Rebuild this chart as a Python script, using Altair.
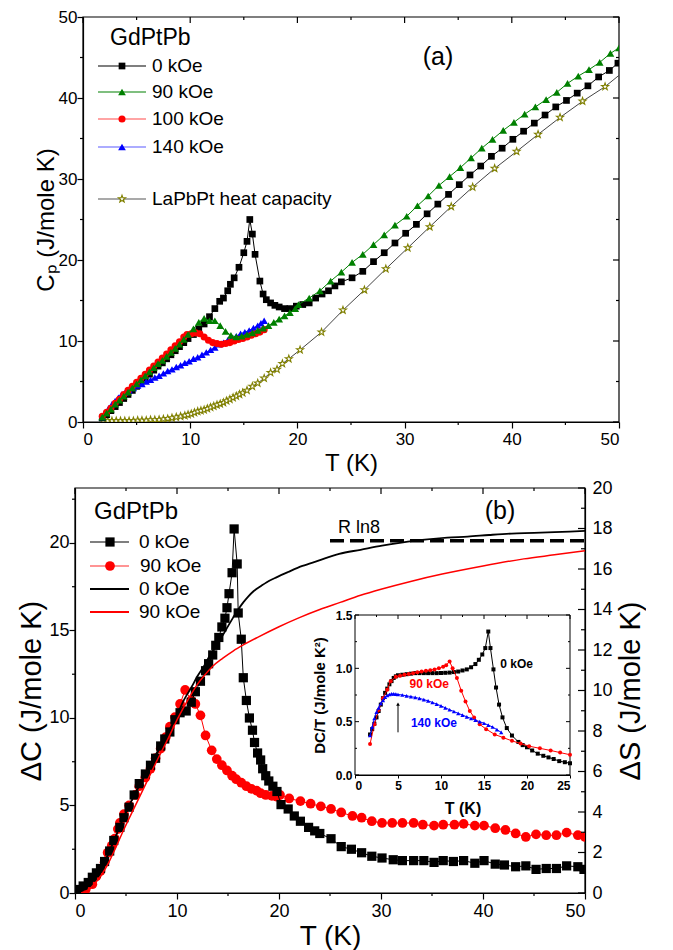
import altair as alt
import pandas as pd

FONT = "Liberation Sans"

# ---------------- layout constants ----------------
W_A, H_A = 544, 405
A_LEFT = 8
W_B, H_B = 510, 405
INSET_X = [280, 495]
INSET_Y = [287, 127]
STAR = ("M0,-1L0.235,-0.324L0.951,-0.309L0.38,0.124L0.588,0.809L0,0.4L-0.588,0.809"
        "L-0.38,0.124L-0.951,-0.309L-0.235,-0.324Z")

# ---------------- panel (a) data ----------------
A_XDOM = [0, 50]
A_YDOM = [0, 50]
A_XMAJ = [0, 10, 20, 30, 40, 50]
A_XMIN = [5, 15, 25, 35, 45]
A_YMAJ = [0, 10, 20, 30, 40, 50]
A_YMIN = [5, 15, 25, 35, 45]

a0_T = [1.8, 2.2, 2.6, 3.0, 3.4, 3.8, 4.2, 4.6, 5.0, 5.4, 5.8, 6.2, 6.6, 7.0, 7.4, 7.8, 8.2, 8.6, 9.0, 9.4, 9.8,
        10.3, 10.8, 11.3, 11.8, 12.3, 12.75, 13.1, 13.5, 13.75, 14.1, 14.55, 15.0, 15.3, 15.56, 15.8, 16.05, 16.5,
        16.8, 17.1, 17.5, 17.9, 18.3, 18.8, 19.3, 19.9, 20.5, 21.1, 21.7, 22.3, 22.9, 23.5, 24.1, 25.1, 26.1, 27.1,
        28.1, 29.1, 30.1, 31.1, 32.1, 33.1, 34.1, 35.1, 36.1, 37.1, 38.1, 39.1, 40.1, 41.1, 42.1, 43.1, 44.1, 45.1,
        46.1, 47.1, 48.1, 49.1, 49.9]
a0_C = [0.5, 0.9, 1.4, 1.9, 2.4, 2.9, 3.4, 3.9, 4.4, 4.9, 5.4, 5.9, 6.4, 6.9, 7.3, 7.8, 8.3, 8.8, 9.3, 9.8, 10.3,
        10.8, 11.5, 12.1, 13.0, 14.0, 14.9, 15.3, 16.2, 17.0, 17.8, 19.1, 20.9, 22.3, 25.0, 23.2, 20.7, 17.4, 15.8,
        15.1, 14.7, 14.4, 14.2, 14.0, 14.0, 14.3, 14.5, 14.7, 15.3, 15.8, 16.2, 16.8, 17.3, 17.8, 18.6, 19.8, 20.9,
        22.1, 23.3, 24.4, 25.7, 26.9, 28.1, 29.3, 30.5, 31.6, 32.8, 33.8, 34.9, 35.9, 36.9, 37.9, 38.9, 39.7, 40.6,
        41.5, 42.6, 43.4, 44.3]

a90_T = [1.8, 2.2, 2.6, 3.0, 3.4, 3.8, 4.2, 4.6, 5.0, 5.4, 5.8, 6.2, 6.6, 7.0, 7.4, 7.8, 8.2, 8.6, 9.0, 9.4, 9.8,
         10.3, 10.8, 11.3, 11.8, 12.3, 12.8, 13.3, 13.8, 14.3, 14.8, 15.3, 15.8, 16.3, 16.8, 17.3, 17.8, 18.3, 18.8,
         19.3, 19.8, 20.1, 21.1, 22.1, 23.1, 24.1, 25.1, 26.1, 27.1, 28.1, 29.1, 30.2, 31.2, 32.2, 33.2, 34.2, 35.2,
         36.2, 37.2, 38.2, 39.2, 40.2, 41.2, 42.2, 43.2, 44.2, 45.2, 46.2, 47.2, 48.2, 49.2, 50.0]
a90_C = [0.6, 1.1, 1.6, 2.2, 2.7, 3.2, 3.7, 4.2, 4.7, 5.2, 5.7, 6.2, 6.7, 7.2, 7.6, 8.1, 8.6, 9.1, 9.6, 10.2, 10.8,
         11.5, 12.3, 12.8, 12.5, 12.5, 11.9, 11.2, 10.7, 10.5, 10.6, 10.8, 11.0, 11.3, 11.6, 11.9, 12.3, 12.7, 13.1,
         13.5, 14.0, 14.5, 15.3, 16.2, 17.4, 18.5, 19.7, 20.7, 21.9, 23.1, 24.3, 25.4, 26.7, 27.9, 29.2, 30.3, 31.4,
         32.6, 33.8, 34.9, 36.0, 37.0, 38.0, 38.9, 39.8, 40.7, 41.8, 42.7, 43.5, 44.4, 45.5, 46.2]

a100_T = [1.8, 2.2, 2.6, 3.0, 3.4, 3.8, 4.2, 4.6, 5.0, 5.4, 5.8, 6.2, 6.6, 7.0, 7.4, 7.8, 8.2, 8.6, 9.0, 9.4,
          9.7, 10.1, 10.5, 10.9, 11.3, 11.7, 12.1, 12.5, 12.9, 13.3, 13.7, 14.1, 14.5, 14.9, 15.3, 15.7, 16.1, 16.5, 16.9]
a100_C = [0.7, 1.2, 1.7, 2.3, 2.8, 3.4, 3.9, 4.4, 4.9, 5.4, 5.9, 6.4, 6.9, 7.4, 7.9, 8.4, 8.9, 9.4, 9.9, 10.5,
          10.8, 10.9, 11.0, 10.9, 10.5, 10.1, 9.8, 9.7, 9.6, 9.7, 9.8, 10.0, 10.2, 10.3, 10.5, 10.7, 10.9, 11.1, 11.4]

a140_T = [1.8, 2.1, 2.4, 2.7, 3.0, 3.3, 3.6, 3.9, 4.3, 4.7, 5.1, 5.5, 5.9, 6.3, 6.7, 7.1, 7.5, 7.9, 8.3, 8.7, 9.1,
          9.5, 9.9, 10.3, 10.7, 11.1, 11.5, 11.9, 12.3, 12.7, 13.1, 13.5, 13.9, 14.3, 14.7, 15.1, 15.5, 15.9, 16.3,
          16.6, 16.9]
a140_C = [0.6, 1.2, 1.7, 2.2, 2.6, 3.0, 3.4, 3.6, 3.9, 4.2, 4.5, 4.7, 5.0, 5.2, 5.5, 5.7, 6.0, 6.3, 6.5, 6.8, 7.0,
          7.3, 7.5, 7.8, 8.0, 8.3, 8.6, 8.9, 9.2, 9.6, 9.8, 10.1, 10.4, 10.6, 10.9, 11.1, 11.3, 11.6, 11.9, 12.2, 12.5]

la_T = [1.9, 2.3, 2.7, 3.1, 3.5, 3.9, 4.3, 4.7, 5.1, 5.5, 5.9, 6.3, 6.7, 7.1, 7.5, 7.9, 8.3, 8.7, 9.1, 9.5,
        9.8, 10.1, 10.4, 10.7, 11.0, 11.3, 11.6, 11.9, 12.2, 12.5, 12.8, 13.1, 13.4, 13.7, 14.0, 14.3, 14.6, 14.9,
        15.3, 15.8, 16.3, 16.9, 17.5, 18.1, 18.6, 19.2, 20.25, 22.25, 24.25, 26.25, 28.25, 30.3, 32.35, 34.35,
        36.35, 38.4, 40.45, 42.45, 44.5, 46.6, 48.7]
la_C = [0.15, 0.15, 0.15, 0.15, 0.15, 0.15, 0.15, 0.15, 0.2, 0.2, 0.2, 0.25, 0.25, 0.3, 0.35, 0.4, 0.5, 0.6, 0.7,
        0.8, 0.9, 1.0, 1.15, 1.3, 1.4, 1.5, 1.65, 1.8, 1.95, 2.1, 2.25, 2.4, 2.6, 2.8, 3.0, 3.2, 3.4, 3.6, 3.9, 4.4,
        4.8, 5.4, 6.1, 6.5, 7.2, 7.8, 8.9, 11.1, 13.8, 16.3, 18.9, 21.5, 24.1, 26.6, 29.0, 31.3, 33.4, 35.5, 37.6,
        39.6, 41.4]
la_end_T = [50.0]
la_end_C = [42.8]

# ---------------- panel (b) data ----------------
B_XDOM = [0, 50]
B_YDOM = [0, 23.14]
S_YDOM = [0, 20]
B_XMAJ = [0, 10, 20, 30, 40, 50]
B_XMIN = [5, 15, 25, 35, 45]
B_YMAJ = [0, 5, 10, 15, 20]
B_YMIN = [2.5, 7.5, 12.5, 17.5, 22.5]
S_MAJ = [0, 2, 4, 6, 8, 10, 12, 14, 16, 18, 20]
S_MIN = [1, 3, 5, 7, 9, 11, 13, 15, 17, 19]

b0_T = [0.0, 0.4, 0.8, 1.3, 1.7, 2.1, 2.5, 2.9, 3.4, 3.8, 4.4, 4.8, 5.3, 5.8, 6.3, 6.9, 7.4, 7.9, 8.4, 8.8,
        9.3, 9.8, 10.3, 10.9, 11.4, 11.8, 12.3, 12.8, 13.1, 13.5, 13.8, 14.1, 14.4, 14.7, 14.9, 15.1, 15.4, 15.6,
        15.9, 16.0, 16.3, 16.5, 16.8, 17.1, 17.4, 17.6, 17.9, 18.2, 18.4, 18.7, 19.0, 19.4, 19.8, 20.2, 20.9, 21.5,
        22.1, 22.9, 23.5, 24.0, 25.1, 26.1, 27.1, 28.1, 29.1, 30.1, 31.2, 32.1, 33.2, 34.2, 35.2, 36.1, 37.1, 38.1,
        39.2, 40.1, 41.2, 42.1, 43.2, 44.2, 45.2, 46.2, 47.2, 48.2, 49.3, 49.9]
b0_C = [0.1, 0.2, 0.4, 0.6, 0.9, 1.15, 1.4, 1.8, 2.4, 3.0, 3.75, 4.3, 4.9, 5.6, 6.25, 6.8, 7.3, 7.7, 8.4, 8.8,
        9.2, 9.9, 10.3, 10.4, 10.9, 11.5, 12.1, 12.7, 13.1, 13.6, 14.15, 14.6, 15.2, 15.7, 16.3, 17.1, 18.3, 20.8,
        18.8, 16.0, 14.5, 12.3, 11.0, 10.0, 9.3, 8.6, 8.0, 7.6, 7.1, 6.7, 6.4, 6.1, 5.8, 5.05, 4.8, 4.4, 4.1, 3.75,
        3.55, 3.4, 3.1, 2.65, 2.5, 2.3, 2.1, 2.0, 1.9, 1.85, 1.85, 1.85, 1.75, 1.85, 1.8, 1.85, 1.7, 1.85, 1.65,
        1.6, 1.5, 1.55, 1.35, 1.4, 1.4, 1.55, 1.5, 1.35]

b90_T = [0.0, 0.4, 1.05, 1.7, 2.1, 2.5, 2.9, 3.2, 3.6, 3.9, 4.2, 4.4, 4.8, 5.3, 5.9, 6.3, 6.9, 7.4, 7.9, 8.4,
         8.9, 9.3, 9.8, 10.3, 10.8, 11.4, 11.8, 12.3, 12.8, 13.4, 13.9, 14.4, 14.9, 15.4, 15.8, 16.3, 16.8, 17.3,
         17.8, 18.2, 18.7, 19.3, 19.8, 20.1, 21.0, 22.1, 23.1, 24.1, 25.1, 26.1, 27.2, 28.1, 29.1, 30.1, 31.1, 32.1,
         33.2, 34.1, 35.2, 36.1, 37.2, 38.1, 39.2, 40.1, 41.2, 42.2, 43.2, 44.2, 45.2, 46.2, 47.2, 48.2, 49.3, 50.0]
b90_C = [0.1, 0.05, 0.2, 0.5, 0.95, 1.25, 1.75, 2.3, 2.7, 3.1, 3.65, 4.0, 4.5, 5.0, 5.6, 6.1, 6.6, 7.1, 7.7, 8.25,
         8.9, 9.5, 10.05, 10.8, 11.6, 11.0, 10.8, 10.15, 9.0, 8.15, 7.65, 7.3, 7.0, 6.7, 6.5, 6.3, 6.1, 5.95, 5.85,
         5.7, 5.6, 5.55, 5.5, 5.6, 5.4, 5.25, 5.1, 4.95, 4.8, 4.6, 4.4, 4.3, 4.1, 4.0, 4.0, 4.0, 4.0, 3.9, 3.85, 3.9,
         3.9, 3.95, 3.85, 3.85, 3.7, 3.6, 3.4, 3.2, 3.35, 3.3, 3.3, 3.45, 3.3, 3.2]

s0_T = [0, 0.6, 1.3, 1.9, 2.6, 3.2, 4.0, 4.8, 5.9, 7.0, 8.0, 9.1, 10.0, 10.7, 11.4, 12.0, 12.7, 13.3, 14.1, 14.8,
        15.5, 16.0, 16.5, 17.0, 17.5, 18.2, 18.8, 19.8, 20.9, 22.3, 23.8, 25.9, 28.0, 30.1, 32.0, 34.3, 36.5, 38.5,
        40.6, 42.8, 45.0, 47.0, 50.0]
s0_S = [0, 0.1, 0.35, 0.75, 1.25, 1.85, 2.8, 3.8, 4.9, 5.95, 6.9, 7.9, 8.8, 9.55, 10.15, 10.7, 11.25, 11.8, 12.4,
        13.0, 13.6, 14.0, 14.35, 14.65, 14.9, 15.15, 15.35, 15.6, 15.85, 16.15, 16.4, 16.75, 16.95, 17.15, 17.3,
        17.45, 17.55, 17.6, 17.68, 17.75, 17.78, 17.82, 17.88]
s90_T = [0.6, 1.3, 1.9, 2.6, 3.2, 4.0, 4.8, 5.9, 7.0, 8.0, 9.1, 10.1, 11.2, 12.0, 12.7, 13.5, 14.5, 15.5, 16.5,
         18.0, 20.0, 22.0, 24.0, 26.0, 28.0, 30.0, 33.0, 36.0, 40.0, 44.0, 47.0, 50.0]
s90_S = [0, 0.15, 0.45, 0.9, 1.4, 2.25, 3.15, 4.3, 5.45, 6.5, 7.6, 8.65, 9.65, 10.3, 10.75, 11.2, 11.6, 11.95,
         12.25, 12.65, 13.15, 13.6, 14.0, 14.35, 14.7, 15.0, 15.4, 15.75, 16.15, 16.5, 16.7, 16.9]
rln8_T = [25, 50]
rln8_S = [17.4, 17.4]

# ---------------- inset data ----------------
I_XDOM = [0, 25]
I_YDOM = [0, 1.5]
I_XMAJ = [0, 5, 10, 15, 20, 25]
I_XMIN = [2.5, 7.5, 12.5, 17.5, 22.5]
I_YMAJ = [0.0, 0.5, 1.0, 1.5]
I_YMIN = [0.25, 0.75, 1.25]

i0_T = [1.75, 2.0, 2.25, 2.5, 2.75, 3.0, 3.25, 3.5, 3.75, 4.0, 4.25, 4.5, 4.75, 5.0, 5.5, 6.0, 6.5, 7.0, 7.5, 8.0,
        8.5, 9.0, 9.5, 10.0, 10.5, 11.0, 11.5, 12.0, 12.5, 13.0, 13.5, 14.0, 14.4, 14.8, 15.15, 15.5, 15.75, 16.1,
        16.4, 16.75, 17.15, 17.65, 18.25, 19.0, 19.5, 20.0, 20.6, 21.25, 21.9, 22.5, 23.1, 23.75, 24.4, 25.0]
i0_v = [0.38, 0.43, 0.48, 0.54, 0.6, 0.66, 0.72, 0.77, 0.81, 0.85, 0.88, 0.91, 0.925, 0.935, 0.94, 0.945, 0.95,
        0.955, 0.955, 0.955, 0.955, 0.955, 0.955, 0.956, 0.958, 0.96, 0.965, 0.97, 0.98, 0.99, 1.01, 1.04, 1.08,
        1.13, 1.19, 1.345, 1.19, 0.99, 0.82, 0.66, 0.54, 0.44, 0.37, 0.31, 0.28, 0.26, 0.23, 0.2, 0.18, 0.165,
        0.15, 0.13, 0.12, 0.11]
i90_T = [1.75, 2.25, 2.75, 3.25, 3.75, 4.15, 4.75, 5.25, 5.75, 6.25, 6.75, 7.25, 7.75, 8.25, 8.75, 9.25, 9.75,
         10.25, 10.6, 11.0, 11.35, 11.85, 12.35, 12.85, 13.35, 13.85, 14.5, 15.25, 16.25, 17.25, 18.25, 19.25,
         20.25, 21.5, 22.75, 23.85, 25.0]
i90_v = [0.29, 0.475, 0.61, 0.72, 0.8, 0.88, 0.92, 0.93, 0.94, 0.947, 0.955, 0.963, 0.97, 0.977, 0.983, 0.99,
         1.0, 1.015, 1.03, 1.065, 1.0, 0.91, 0.79, 0.69, 0.6, 0.54, 0.475, 0.43, 0.38, 0.35, 0.32, 0.295, 0.27,
         0.25, 0.23, 0.21, 0.19]
i140_T = [1.75, 2.0, 2.25, 2.5, 2.75, 3.0, 3.25, 3.5, 3.75, 4.0, 4.25, 4.5, 4.75, 5.0, 5.5, 6.0, 6.5, 7.0, 7.5,
          8.0, 8.5, 9.0, 9.5, 10.0, 10.5, 11.0, 11.5, 12.0, 12.5, 13.0, 13.5, 14.0, 14.5, 15.0, 15.5, 16.0, 16.5, 17.0]
i140_v = [0.37, 0.45, 0.53, 0.59, 0.63, 0.67, 0.7, 0.73, 0.745, 0.755, 0.76, 0.76, 0.758, 0.755, 0.75, 0.742,
          0.735, 0.727, 0.718, 0.707, 0.695, 0.68, 0.665, 0.648, 0.63, 0.612, 0.595, 0.578, 0.562, 0.545, 0.53,
          0.515, 0.5, 0.485, 0.468, 0.45, 0.425, 0.4]
arrow_T = [5.0]
arrow_v = [0.40, 0.665]
inset_labels = [("0 kOe", 16.9, 1.04, "black"), ("90 kOe", 6.35, 0.85, "#ff0000"), ("140 kOe", 6.5, 0.49, "#0000ff")]

# ---------------- helpers ----------------
ONE = pd.DataFrame({"k": [0]})
OMIT = "omit"


def xy(xs, ys):
    return pd.DataFrame({"x": xs, "y": ys})


def X(field, scale, axis=OMIT):
    if axis is OMIT:
        return alt.X(field, scale=scale)
    return alt.X(field, scale=scale, axis=axis)


def Y(field, scale, axis=OMIT):
    if axis is OMIT:
        return alt.Y(field, scale=scale)
    return alt.Y(field, scale=scale, axis=axis)


def line(xs, ys, sx, sy, color, width, interp="linear", dash=None, ax=OMIT):
    kw = dict(color=color, strokeWidth=width, interpolate=interp, clip=True)
    if dash is not None:
        kw["strokeDash"] = dash
    return alt.Chart(xy(xs, ys)).mark_line(**kw).encode(x=X("x:Q", sx, ax), y=Y("y:Q", sy))


def points(xs, ys, sx, sy, shape, size, fill, stroke=None, sw=0.0, clip=True):
    kw = dict(shape=shape, size=size, filled=True, fill=fill, opacity=1, fillOpacity=1, clip=clip)
    if stroke is not None:
        kw["stroke"] = stroke
        kw["strokeWidth"] = sw
    else:
        kw["strokeWidth"] = 0
    return alt.Chart(xy(xs, ys)).mark_point(**kw).encode(x=X("x:Q", sx), y=Y("y:Q", sy))


def vticks(values, y0, y1, sx, w=1.2):
    return alt.Chart(pd.DataFrame({"v": values})).mark_rule(color="black", strokeWidth=w).encode(
        x=X("v:Q", sx), y=alt.value(y0), y2=alt.value(y1))


def hticks(values, x0, x1, sy, w=1.2):
    return alt.Chart(pd.DataFrame({"v": values})).mark_rule(color="black", strokeWidth=w).encode(
        y=Y("v:Q", sy), x=alt.value(x0), x2=alt.value(x1))


def txt(s, x, y, size, color="black", weight="normal", align="left"):
    return alt.Chart(ONE).mark_text(text=s, fontSize=size, font=FONT, color=color, fontWeight=weight,
                                    align=align, baseline="middle").encode(x=alt.value(x), y=alt.value(y))


def seg(x0, x1, y, color, width):
    return alt.Chart(ONE).mark_rule(color=color, strokeWidth=width).encode(
        x=alt.value(x0), x2=alt.value(x1), y=alt.value(y))


def sym(x, y, shape, size, fill, stroke=None, sw=0.0):
    kw = dict(shape=shape, size=size, filled=True, fill=fill, opacity=1)
    if stroke is not None:
        kw["stroke"] = stroke
        kw["strokeWidth"] = sw
    else:
        kw["strokeWidth"] = 0
    return alt.Chart(ONE).mark_point(**kw).encode(x=alt.value(x), y=alt.value(y))


def frame(xd, yd, sx, sy, ax, ay, fill="transparent", w=1.2):
    d = pd.DataFrame({"x": [xd[0]], "x2": [xd[1]], "y": [yd[0]], "y2": [yd[1]]})
    return alt.Chart(d).mark_rect(fill=fill, stroke="black", strokeWidth=w).encode(
        x=X("x:Q", sx, ax), x2="x2:Q", y=Y("y:Q", sy, ay), y2="y2:Q")


AX = dict(grid=False, tickColor="black", tickWidth=1.2, domainColor="black", domainWidth=1.2,
          labelColor="black", titleColor="black", titleFontWeight="normal", labelFont=FONT, titleFont=FONT)

# ---------------- panel (a) ----------------
xa = alt.Scale(domain=A_XDOM, range=[A_LEFT, W_A], nice=False, zero=False)
ya = alt.Scale(domain=A_YDOM, nice=False, zero=False)

axis_xa = alt.Axis(values=A_XMAJ, tickSize=6, labelFontSize=17, labelPadding=3, format="d",
                   title="T (K)", titleFontSize=24, titlePadding=4, **AX)
axis_ya = alt.Axis(values=A_YMAJ, offset=-A_LEFT, tickSize=6, labelFontSize=17, labelPadding=0, format="d",
                   title="Cₚ  (J/mole K)", titleFontSize=24, titlePadding=0, **AX)

GREEN = "#008000"
RED = "#ff0000"
BLUE = "#0000ff"
OLIVE = "#808000"

a_layers = [
    frame(A_XDOM, A_YDOM, xa, ya, axis_xa, axis_ya),
    vticks(A_XMIN, H_A, H_A + 3, xa),
    vticks(A_XMAJ, 0, 6, xa), vticks(A_XMIN, 0, 3, xa),
    hticks(A_YMIN, A_LEFT - 3, A_LEFT, ya),
    hticks(A_YMAJ, W_A - 6, W_A, ya), hticks(A_YMIN, W_A - 3, W_A, ya),
    line(la_T + la_end_T, la_C + la_end_C, xa, ya, "#444444", 1),
    points(la_T, la_C, xa, ya, STAR, 55, "white", OLIVE, 1.1),
    line(a0_T, a0_C, xa, ya, "black", 1),
    points(a0_T, a0_C, xa, ya, "square", 45, "black"),
    line(a140_T, a140_C, xa, ya, BLUE, 1),
    points(a140_T, a140_C, xa, ya, "triangle-up", 55, BLUE),
    line(a100_T, a100_C, xa, ya, RED, 1),
    points(a100_T, a100_C, xa, ya, "circle", 50, RED),
    line(a90_T, a90_C, xa, ya, GREEN, 1),
    points(a90_T, a90_C, xa, ya, "triangle-up", 60, GREEN),
    # legend
    txt("GdPtPb", 35, 21, 23),
    seg(23, 71, 49, "black", 1.2), sym(47, 49, "square", 45, "black"), txt("0 kOe", 77, 49, 19),
    seg(23, 71, 75, GREEN, 1.2), sym(47, 75, "triangle-up", 60, GREEN), txt("90 kOe", 77, 75, 19),
    seg(23, 71, 102, "#ff4a4a", 1.2), sym(47, 102, "circle", 50, RED), txt("100 kOe", 77, 102, 19),
    seg(23, 71, 130, "#5a5aff", 1.2), sym(47, 130, "triangle-up", 60, BLUE), txt("140 kOe", 77, 130, 19),
    seg(23, 71, 182, "#555555", 1.2), sym(47, 182, STAR, 55, "white", OLIVE, 1.1),
    txt("LaPbPt heat capacity", 77, 182, 19),
    txt("(a)", 363, 40, 25, align="center"),
]
panel_a = alt.layer(*a_layers).properties(width=W_A, height=H_A)

# ---------------- panel (b) ----------------
xb = alt.Scale(domain=B_XDOM, nice=False, zero=False)
yb = alt.Scale(domain=B_YDOM, nice=False, zero=False)
xs_ = alt.Scale(domain=B_XDOM, nice=False, zero=False)
ys = alt.Scale(domain=S_YDOM, nice=False, zero=False)
xi = alt.Scale(domain=I_XDOM, range=INSET_X, nice=False, zero=False)
yi = alt.Scale(domain=I_YDOM, range=INSET_Y, nice=False, zero=False)

axis_xb = alt.Axis(values=B_XMAJ, tickSize=6, labelFontSize=18, labelPadding=3, format="d",
                   title="T (K)", titleFontSize=28, titlePadding=2, **AX)
axis_yb = alt.Axis(values=B_YMAJ, tickSize=6, labelFontSize=18, labelPadding=0, format="d",
                   title="ΔC  (J/mole K)", titleFontSize=29, titlePadding=2, **AX)

left_layers = [
    frame(B_XDOM, B_YDOM, xb, yb, axis_xb, axis_yb),
    vticks(B_XMIN, H_B, H_B + 3, xb),
    vticks(B_XMAJ, 0, 6, xb), vticks(B_XMIN, 0, 3, xb),
    hticks(B_YMIN, -3, 0, yb),
    line(b90_T, b90_C, xb, yb, RED, 1),
    points(b90_T, b90_C, xb, yb, "circle", 95, RED),
    line(b0_T, b0_C, xb, yb, "black", 1),
    points(b0_T, b0_C, xb, yb, "square", 85, "black"),
    # legend
    txt("GdPtPb", 19, 24, 24),
    seg(15, 54, 54, "black", 1.2), sym(35, 54, "square", 85, "black"), txt("0 kOe", 64, 54, 19),
    seg(15, 54, 78, "#ff7070", 1.5), sym(35, 78, "circle", 95, RED), txt("90 kOe", 65, 78, 19),
    seg(15, 54, 101, "black", 2), txt("0 kOe", 64, 101, 19),
    seg(15, 54, 124, RED, 2), txt("90 kOe", 64, 124, 19),
    txt("(b)", 425, 23, 25, align="center"),
    txt("R ln8", 263, 40, 18),
]
left = alt.layer(*left_layers)

axis_s = alt.Axis(orient="right", values=S_MAJ, ticks=False, tickSize=0, labelFontSize=18, labelPadding=7,
                  format="d", title="ΔS (J/mole K)", titleFontSize=29, titleAngle=270, titleBaseline="top",
                  titlePadding=4, **AX)
s_axis_holder = alt.Chart(pd.DataFrame({"x": B_XDOM, "y": S_YDOM})).mark_point(opacity=0).encode(
    x=X("x:Q", xs_, None), y=Y("y:Q", ys, axis_s))
s_ticks_major = alt.Chart(pd.DataFrame({"v": S_MAJ})).mark_rule(color="black", strokeWidth=1.2).encode(
    y=Y("v:Q", ys), x=alt.value(W_B - 7), x2=alt.value(W_B))
s_ticks_minor = alt.Chart(pd.DataFrame({"v": S_MIN})).mark_rule(color="black", strokeWidth=1.2).encode(
    y=Y("v:Q", ys), x=alt.value(W_B - 4), x2=alt.value(W_B))
right_layers = [
    s_axis_holder,
    s_ticks_major, s_ticks_minor,
    line(s0_T, s0_S, xs_, ys, "black", 1.8, interp="monotone", ax=None),
    line(s90_T, s90_S, xs_, ys, RED, 1.5, interp="monotone", ax=None),
    line(rln8_T, rln8_S, xs_, ys, "black", 3.5, dash=[14, 6], ax=None),
]
right = alt.layer(*right_layers)

axis_xi = alt.Axis(orient="bottom", offset=-(H_B - INSET_Y[0]), values=I_XMAJ, tickSize=3, tickWidth=1,
                   labelFontSize=12, labelFontWeight="bold", labelPadding=2, format="d",
                   title="T (K)", titleFontSize=16, titlePadding=9, grid=False, tickColor="black",
                   domainColor="black", domainWidth=1, labelColor="black", titleColor="black",
                   titleFontWeight="bold", labelFont=FONT, titleFont=FONT)
axis_yi = alt.Axis(orient="left", offset=-INSET_X[0], values=I_YMAJ, tickSize=0, labelFontSize=12,
                   labelFontWeight="bold", labelPadding=3, format=".1f",
                   title="DC/T (J/mole K²)", titleFontSize=15, titlePadding=8, grid=False, tickColor="black",
                   domainColor="black", domainWidth=1, labelColor="black", titleColor="black",
                   titleFontWeight="bold", labelFont=FONT, titleFont=FONT)

inset_layers = [
    frame(I_XDOM, I_YDOM, xi, yi, axis_xi, axis_yi, fill="white", w=1),
    vticks(I_XMAJ, INSET_Y[1], INSET_Y[1] + 4, xi, 1), vticks(I_XMIN, INSET_Y[1], INSET_Y[1] + 2, xi, 1),
    hticks(I_YMAJ, INSET_X[1] - 4, INSET_X[1], yi, 1), hticks(I_YMIN, INSET_X[1] - 2, INSET_X[1], yi, 1),
    hticks(I_YMAJ, INSET_X[0], INSET_X[0] + 4, yi, 1), hticks(I_YMIN, INSET_X[0], INSET_X[0] + 2, yi, 1),
    line(i0_T, i0_v, xi, yi, "black", 1),
    points(i0_T, i0_v, xi, yi, "square", 16, "black", clip=False),
    line(i90_T, i90_v, xi, yi, RED, 1),
    points(i90_T, i90_v, xi, yi, "circle", 16, RED, clip=False),
    line(i140_T, i140_v, xi, yi, BLUE, 1),
    points(i140_T, i140_v, xi, yi, "triangle-up", 18, BLUE, clip=False),
    alt.Chart(pd.DataFrame({"x": arrow_T, "y": [arrow_v[0]], "y2": [arrow_v[1]]})).mark_rule(
        color="black", strokeWidth=1).encode(x=X("x:Q", xi), y=Y("y:Q", yi), y2="y2:Q"),
    points(arrow_T, [arrow_v[1]], xi, yi, "triangle-up", 14, "black", clip=False),
]
for lab, lx, ly, lc in inset_labels:
    inset_layers.append(
        alt.Chart(xy([lx], [ly])).mark_text(text=lab, fontSize=12, font=FONT, fontWeight="bold", color=lc,
                                            align="left", baseline="middle").encode(
            x=X("x:Q", xi), y=Y("y:Q", yi)))
inset = alt.layer(*inset_layers)

panel_b = alt.layer(left, right, inset).resolve_scale(x="independent", y="independent").properties(
    width=W_B, height=H_B)

chart = alt.vconcat(panel_a, panel_b, spacing=66, bounds="flush").properties(
    padding={"left": 9, "top": 0, "right": 0, "bottom": 0}
).configure_view(stroke=None).configure_axis(labelFont=FONT, titleFont=FONT)

chart.save("out.html", embed_options={"renderer": "svg", "actions": False})
